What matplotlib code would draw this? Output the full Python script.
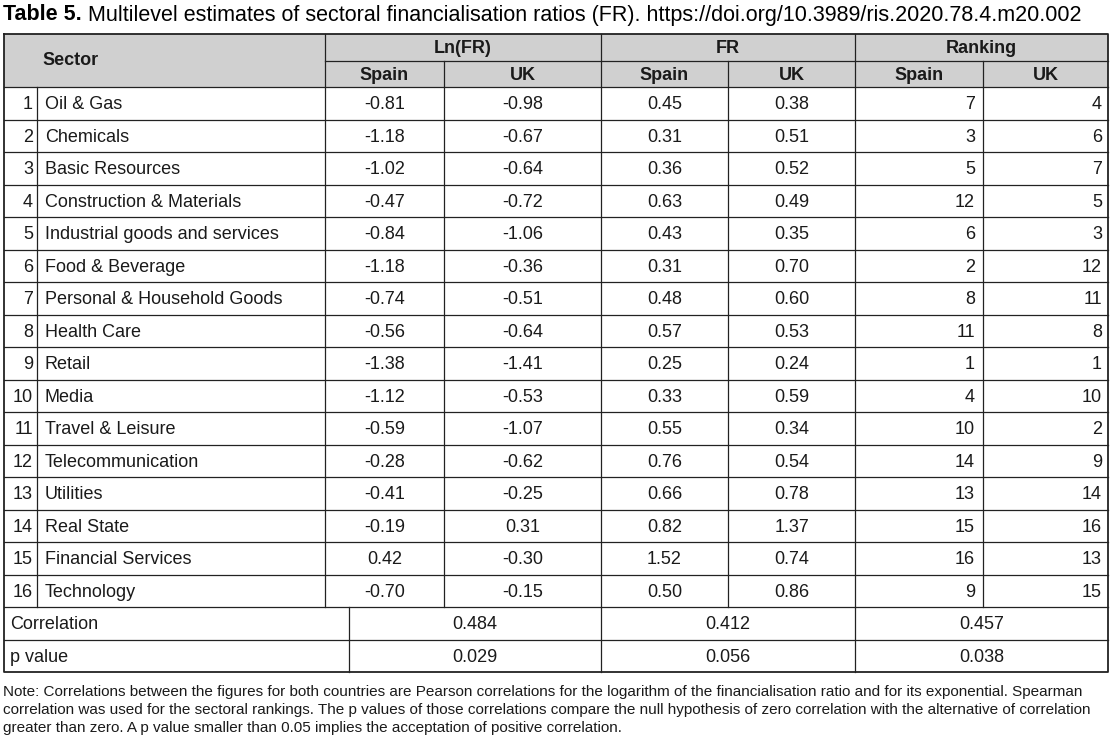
import matplotlib
matplotlib.use("Agg")
import matplotlib.pyplot as plt

plt.rcParams['font.family'] = ['Liberation Sans', 'DejaVu Sans']

# table data
sectors = ["Oil & Gas", "Chemicals", "Basic Resources", "Construction & Materials",
           "Industrial goods and services", "Food & Beverage", "Personal & Household Goods",
           "Health Care", "Retail", "Media", "Travel & Leisure", "Telecommunication",
           "Utilities", "Real State", "Financial Services", "Technology"]
ln_spain = [-0.81, -1.18, -1.02, -0.47, -0.84, -1.18, -0.74, -0.56, -1.38, -1.12, -0.59, -0.28, -0.41, -0.19, 0.42, -0.70]
ln_uk = [-0.98, -0.67, -0.64, -0.72, -1.06, -0.36, -0.51, -0.64, -1.41, -0.53, -1.07, -0.62, -0.25, 0.31, -0.30, -0.15]
fr_spain = [0.45, 0.31, 0.36, 0.63, 0.43, 0.31, 0.48, 0.57, 0.25, 0.33, 0.55, 0.76, 0.66, 0.82, 1.52, 0.50]
fr_uk = [0.38, 0.51, 0.52, 0.49, 0.35, 0.70, 0.60, 0.53, 0.24, 0.59, 0.34, 0.54, 0.78, 1.37, 0.74, 0.86]
rank_spain = [7, 3, 5, 12, 6, 2, 8, 11, 1, 4, 10, 14, 13, 15, 16, 9]
rank_uk = [4, 6, 7, 5, 3, 12, 11, 8, 1, 10, 2, 9, 14, 16, 13, 15]
groups = ["Ln(FR)", "FR", "Ranking"]
countries = ["Spain", "UK"]
correlation = ["0.484", "0.412", "0.457"]
p_values = ["0.029", "0.056", "0.038"]

title_bold = "Table 5."
title_rest = " Multilevel estimates of sectoral financialisation ratios (FR). https://doi.org/10.3989/ris.2020.78.4.m20.002"
note = ("Note: Correlations between the figures for both countries are Pearson correlations for the logarithm of the financialisation ratio and for its exponential. Spearman\n"
        "correlation was used for the sectoral rankings. The p values of those correlations compare the null hypothesis of zero correlation with the alternative of correlation\n"
        "greater than zero. A p value smaller than 0.05 implies the acceptation of positive correlation.")

# layout (pixel units)
W, H = 1113, 738
xs = [4, 37, 325, 444, 601, 728, 855, 983, 1108]
y_top, y_mid, y_head = 34, 61, 87
row_h = 32.5
n = len(sectors)
y_data_end = y_head + n * row_h
y_corr = y_data_end + row_h
y_end = y_corr + row_h
x_corr = 349
txt = '#1a1a1a'
fs = 13

fig = plt.figure(figsize=(W / 100, H / 100), dpi=100)
ax = fig.add_axes([0, 0, 1, 1])
ax.set_xlim(0, W)
ax.set_ylim(H, 0)
ax.axis('off')

# header background
ax.add_patch(plt.Rectangle((xs[0], y_top), xs[-1] - xs[0], y_head - y_top,
                           facecolor='#d0d0d0', edgecolor='none', zorder=0))

lc = '#222222'
lw = 0.9
# horizontal lines
ax.plot([xs[2], xs[-1]], [y_mid, y_mid], color=lc, lw=lw)
for i in range(n + 2):
    y = y_head + i * row_h
    ax.plot([xs[0], xs[-1]], [y, y], color=lc, lw=lw)
# vertical lines
for x in [xs[2], xs[4], xs[6]]:
    ax.plot([x, x], [y_top, y_data_end], color=lc, lw=lw)
for x in [xs[3], xs[5], xs[7]]:
    ax.plot([x, x], [y_mid, y_data_end], color=lc, lw=lw)
ax.plot([xs[1], xs[1]], [y_head, y_data_end], color=lc, lw=lw)
for x in [x_corr, xs[4], xs[6]]:
    ax.plot([x, x], [y_data_end, y_end], color=lc, lw=lw)
# outer border
ax.plot([xs[0], xs[-1], xs[-1], xs[0], xs[0]], [y_top, y_top, y_end, y_end, y_top],
        color=lc, lw=1.3)

# title
t = ax.text(3, 15, title_bold, fontsize=15.5, fontweight='bold', va='center', ha='left', color='black')
fig.canvas.draw()
bb = t.get_window_extent()
ax.text(3 + bb.width, 15, title_rest, fontsize=15.5, va='center', ha='left', color='black')

# header text
ax.text(42, (y_top + y_head) / 2, "Sector", fontsize=fs, fontweight='bold', va='center', ha='left', color=txt)
for g, name in enumerate(groups):
    x0, x1, x2 = xs[2 + 2 * g], xs[3 + 2 * g], xs[4 + 2 * g]
    ax.text((x0 + x2) / 2, (y_top + y_mid) / 2 + 1, name, fontsize=fs, fontweight='bold',
            va='center', ha='center', color=txt)
    for c, cx in enumerate([(x0 + x1) / 2, (x1 + x2) / 2]):
        ax.text(cx, (y_mid + y_head) / 2 + 1, countries[c], fontsize=fs, fontweight='bold',
                va='center', ha='center', color=txt)

# data rows
for i in range(n):
    yc = y_head + (i + 0.5) * row_h + 1.5
    ax.text(xs[1] - 4, yc, str(i + 1), fontsize=fs, va='center', ha='right', color=txt)
    ax.text(xs[1] + 8, yc, sectors[i], fontsize=fs, va='center', ha='left', color=txt)
    vals = [ln_spain[i], ln_uk[i], fr_spain[i], fr_uk[i]]
    for k, v in enumerate(vals):
        ax.text((xs[2 + k] + xs[3 + k]) / 2, yc, f"{v:.2f}", fontsize=fs, va='center', ha='center', color=txt)
    ax.text(xs[7] - 8, yc, str(rank_spain[i]), fontsize=fs, va='center', ha='right', color=txt)
    ax.text(xs[8] - 6, yc, str(rank_uk[i]), fontsize=fs, va='center', ha='right', color=txt)

# correlation rows
lefts = [x_corr, xs[4], xs[6]]
rights = [xs[4], xs[6], xs[8]]
for label, vals, y0 in [("Correlation", correlation, y_data_end), ("p value", p_values, y_corr)]:
    yc = y0 + row_h / 2 + 1.5
    ax.text(10, yc, label, fontsize=fs, va='center', ha='left', color=txt)
    for k in range(3):
        ax.text((lefts[k] + rights[k]) / 2, yc, vals[k], fontsize=fs, va='center', ha='center', color=txt)

# note
ax.text(3, 685, note, fontsize=10.95, va='top', ha='left', color=txt, linespacing=1.36)

fig.savefig("out.png", dpi=100)
